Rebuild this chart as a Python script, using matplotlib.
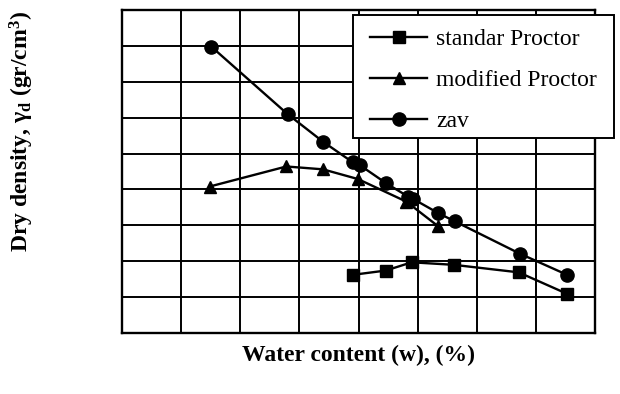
import matplotlib
matplotlib.use("Agg")
import matplotlib.pyplot as plt
from matplotlib.ticker import MultipleLocator, NullFormatter
from matplotlib.patches import Rectangle

# Data in grid units (chart shows no tick labels)
std_w = [3.90, 4.46, 4.90, 5.61, 6.71, 7.53]
std_d = [1.62, 1.74, 1.97, 1.90, 1.69, 1.09]

mod_w = [1.48, 2.78, 3.40, 3.99, 4.81, 5.35]
mod_d = [4.08, 4.64, 4.56, 4.29, 3.66, 2.97]

zav_w = [1.51, 2.80, 3.40, 3.90, 4.02, 4.47, 4.84, 4.93, 5.35, 5.63, 6.73, 7.53]
zav_d = [7.98, 6.10, 5.33, 4.76, 4.68, 4.17, 3.80, 3.73, 3.34, 3.11, 2.21, 1.62]

serif = ["Liberation Serif", "DejaVu Serif"]
plt.rcParams["mathtext.fontset"] = "custom"
plt.rcParams["mathtext.rm"] = "Liberation Serif"
plt.rcParams["mathtext.it"] = "Liberation Serif:italic"
plt.rcParams["mathtext.bf"] = "Liberation Serif:bold"

W, H = 620, 394
AX_L, AX_R, AX_T, AX_B = 122, 595, 10, 333

fig = plt.figure(figsize=(6.2, 3.94), dpi=100)
ax = fig.add_axes([AX_L/W, 1-AX_B/H, (AX_R-AX_L)/W, (AX_B-AX_T)/H])

def ax_x(px):
    return (px-AX_L)/(AX_R-AX_L)

def ax_y(py):
    return 1-(py-AX_T)/(AX_B-AX_T)

kw = dict(color="black", lw=1.7, markeredgecolor="black", markerfacecolor="black")
ax.plot(std_w, std_d, marker="s", ms=9, label="standar Proctor", **kw)
ax.plot(mod_w, mod_d, marker="^", ms=9, label="modified Proctor", **kw)
ax.plot(zav_w, zav_d, marker="o", ms=9.5, label="zav", **kw)

ax.set_xlim(0, 8)
ax.set_ylim(0, 9)
ax.xaxis.set_major_locator(MultipleLocator(1))
ax.yaxis.set_major_locator(MultipleLocator(1))
ax.xaxis.set_major_formatter(NullFormatter())
ax.yaxis.set_major_formatter(NullFormatter())
ax.tick_params(length=0)
ax.grid(True, color="black", lw=1.4)
ax.set_axisbelow(True)
for s in ax.spines.values():
    s.set_linewidth(1.7)

# legend frame (extends beyond the axes on the right)
frame = Rectangle((ax_x(353), ax_y(138)), ax_x(614)-ax_x(353), ax_y(15)-ax_y(138),
                  transform=ax.transAxes, facecolor="white", edgecolor="black",
                  lw=1.4, clip_on=False, zorder=4.8)
ax.add_patch(frame)

leg = ax.legend(loc="upper left", bbox_to_anchor=(ax_x(370), ax_y(28.5)),
                frameon=False, prop={"family": serif, "size": 17},
                handlelength=2.42, borderpad=0, labelspacing=0.82,
                handletextpad=0.38, borderaxespad=0, markerscale=1.0)
leg.set_zorder(5)

fig.text(359/W, 1-355/H, "Water content (w), (%)", ha="center", va="center",
         fontsize=17, fontweight="bold", family=serif)
fig.text(22/W, 1-132/H, r"Dry density, $\mathbf{\gamma_d}$ (gr/cm$^\mathbf{3}$)",
         ha="center", va="center", rotation=90, fontsize=17, fontweight="bold",
         family=serif)

fig.savefig("out.png", dpi=100)
